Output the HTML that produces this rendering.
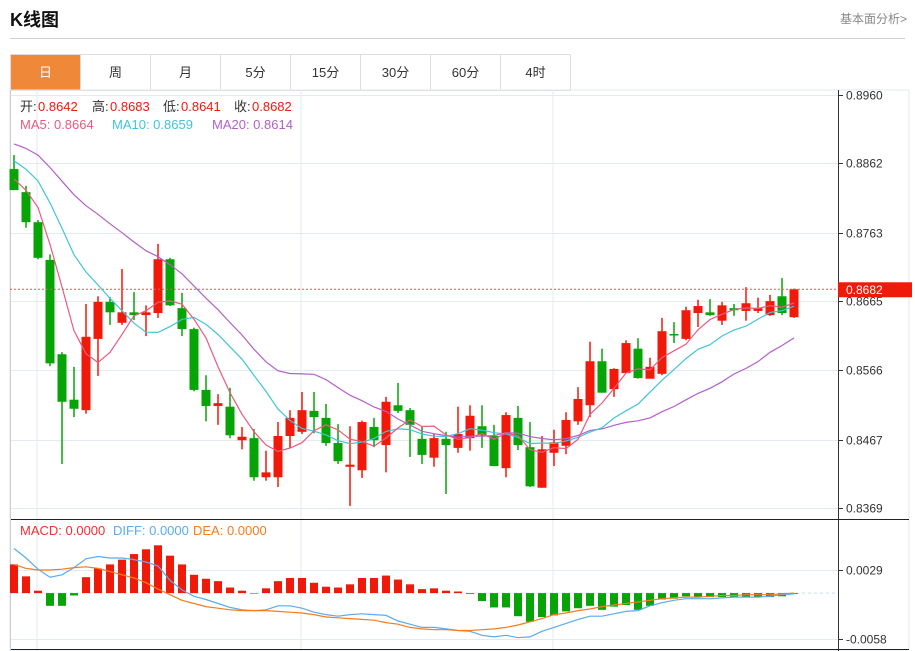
<!DOCTYPE html>
<html><head><meta charset="utf-8">
<style>
body{margin:0;background:#fff;font-family:"Liberation Sans","Noto Sans CJK SC",sans-serif;}
#wrap{position:relative;width:915px;height:651px;overflow:hidden;}
.title{position:absolute;left:10px;top:6px;font-size:18px;font-weight:bold;color:#111;}
.more{position:absolute;right:8px;top:10px;font-size:12px;color:#888;}
.hr{position:absolute;left:10px;top:38px;width:895px;height:1px;background:#d0d0d0;}
.tabs{position:absolute;left:10px;top:54px;height:35px;border:1px solid #ddd;border-right:none;display:flex;}
.tab{width:69px;height:35px;border-right:1px solid #ddd;text-align:center;line-height:35px;font-size:13px;color:#333;}
.tab.on{background:#f0883a;color:#fff;}
svg{position:absolute;left:0;top:0;}
</style></head><body>
<div id="wrap">
<div class="title">K线图</div>
<div class="more">基本面分析&gt;</div>
<div class="hr"></div>
<div class="tabs">
<div class="tab on">日</div>
<div class="tab">周</div>
<div class="tab">月</div>
<div class="tab">5分</div>
<div class="tab">15分</div>
<div class="tab">30分</div>
<div class="tab">60分</div>
<div class="tab">4时</div>
</div>
<svg id="chart" width="915" height="651"></svg>
</div>
<script>
const opens=[.8854,.8821,.8778,.8724,.8589,.8524,.8509,.8611,.8664,.8634,.8649,.8645,.8648,.8725,.8655,.8625,.8538,.8515,.8514,.8466,.8469,.8413,.8413,.8472,.8478,.8508,.8498,.8462,.8428,.8423,.8485,.8459,.8516,.8509,.8468,.8441,.8468,.8455,.8469,.8486,.8472,.8426,.8498,.8456,.8398,.8448,.8458,.8493,.8516,.8579,.8539,.8562,.8597,.8554,.8561,.8618,.8611,.8648,.8649,.8637,.8655,.8651,.8651,.8645,.8672,.8642];
const closes=[.8824,.8778,.8727,.8576,.8521,.8511,.8614,.8664,.8649,.8649,.8645,.8649,.8725,.8659,.8625,.8538,.8515,.8519,.8473,.8471,.8413,.8420,.8472,.8498,.8509,.8499,.8462,.8436,.8431,.8492,.8466,.8521,.8508,.8488,.8445,.8469,.8459,.8475,.8501,.8473,.8429,.8502,.8459,.8400,.8453,.8463,.8495,.8525,.8579,.8534,.8568,.8605,.8555,.8571,.8622,.8617,.8652,.8658,.8645,.8659,.8652,.8662,.8655,.8665,.8648,.8682];
const highs=[.8874,.8830,.8781,.8732,.8592,.8571,.8661,.8672,.8671,.8711,.8678,.8659,.8747,.8727,.8677,.8627,.8559,.8532,.8541,.8485,.8482,.8451,.8492,.8509,.8535,.8535,.8518,.8489,.8486,.8494,.8498,.8528,.8548,.8512,.8485,.8475,.8478,.8514,.8516,.8516,.8488,.8506,.8515,.8492,.8472,.8481,.8506,.8542,.8607,.8597,.8569,.8609,.8612,.8584,.8641,.8635,.8657,.8667,.8668,.8664,.8661,.8685,.8670,.8674,.8698,.8683];
const lows=[.8824,.8770,.8725,.8572,.8432,.8499,.8504,.8558,.8631,.8631,.8638,.8615,.8641,.8658,.8615,.8536,.8493,.8488,.8469,.8453,.8408,.8408,.8399,.8455,.8475,.8476,.8458,.8432,.8372,.8412,.8456,.8420,.8505,.8442,.8432,.8428,.8389,.8448,.8451,.8455,.8429,.8413,.8452,.8399,.8398,.8429,.8446,.8488,.8499,.8534,.8528,.8562,.8554,.8554,.8559,.8605,.8609,.8628,.8644,.8631,.8644,.8637,.8648,.8644,.8645,.8641];
const priorCloses=[.8905,.8920,.8930,.8915,.8900,.8925,.8910,.8920,.8905,.8910,.8900,.8895,.8890,.8885,.8890,.8860,.8850,.8840,.8826];
const macdBars=[.0036,.0021,.0003,-.0016,-.0016,-.0003,.0020,.0031,.0036,.0042,.0049,.0055,.0060,.0047,.0036,.0023,.0018,.0015,.0007,.0003,.0000,.0006,.0015,.0019,.0019,.0013,.0008,.0007,.0011,.0019,.0019,.0022,.0017,.0011,.0005,.0006,.0003,.0002,-.0001,-.0010,-.0018,-.0018,-.0029,-.0036,-.0030,-.0028,-.0023,-.0019,-.0016,-.0021,-.0017,-.0015,-.0021,-.0016,-.0008,-.0007,-.0004,-.0005,-.0005,-.0005,-.0005,-.0005,-.0005,-.0005,-.0004,-.0001];
const diffVals=[.0056,.0044,.0030,.0020,.0023,.0032,.0043,.0046,.0044,.0044,.0042,.0039,.0034,.0016,.0004,-.0004,-.0008,-.0013,-.0018,-.0021,-.0022,-.0021,-.0016,-.0016,-.0019,-.0024,-.0027,-.0029,-.0027,-.0026,-.0027,-.0028,-.0035,-.0039,-.0043,-.0043,-.0045,-.0047,-.0048,-.0053,-.0055,-.0053,-.0056,-.0055,-.0048,-.0043,-.0038,-.0033,-.0029,-.0029,-.0026,-.0023,-.0022,-.0016,-.0012,-.0009,-.0007,-.0007,-.0007,-.0006,-.0005,-.0005,-.0005,-.0004,-.0002,-.0001];
const deaVals=[.0036,.0031,.0029,.0029,.0030,.0032,.0033,.0031,.0027,.0023,.0019,.0013,.0005,-.0002,-.0009,-.0013,-.0017,-.0019,-.0021,-.0022,-.0022,-.0022,-.0023,-.0024,-.0025,-.0027,-.0030,-.0031,-.0032,-.0033,-.0034,-.0037,-.0039,-.0043,-.0045,-.0046,-.0046,-.0047,-.0047,-.0046,-.0045,-.0043,-.0040,-.0036,-.0032,-.0027,-.0025,-.0022,-.0020,-.0017,-.0015,-.0013,-.0011,-.0009,-.0007,-.0006,-.0005,-.0005,-.0004,-.0003,-.0003,-.0002,-.0002,-.0002,-.0001,.0000];
const priceTicks=[0.8960,0.8862,0.8763,0.8665,0.8566,0.8467,0.8369];
const macdTicks=[0.0029,-0.0058];
const lastPrice=0.8682;

const svg=document.getElementById('chart');
const NS='http://www.w3.org/2000/svg';
function mk(tag,attrs,parent){const e=document.createElementNS(NS,tag);for(const k in attrs)e.setAttribute(k,attrs[k]);(parent||svg).appendChild(e);return e;}
const L=10,R=838,PT=95,PB=508;
const xOf=i=>14+i*12;
const yP=p=>PT+(0.8960-p)*(PB-PT)/(0.8960-0.8369);
const yM=v=>593.1-v*7966;

// frame & grid
const frame=mk('g',{});


mk('rect',{x:10,y:90,width:899,height:560,fill:'none',stroke:'#e3e8ee'},frame);
[37,301,553].forEach(x=>mk('line',{x1:x,y1:90,x2:x,y2:649,stroke:'#e3eaf0'},frame));
priceTicks.forEach(p=>{const y=Math.round(yP(p))+0.5;
 mk('line',{x1:L,y1:y,x2:R,y2:y,stroke:'#e3eaf0'},frame);
 mk('line',{x1:R,y1:y,x2:R+5,y2:y,stroke:'#333'},frame);
 const t=mk('text',{x:R+8,y:y+4,'font-size':12,fill:'#333'},frame);t.textContent=p.toFixed(4);
 
 
});
macdTicks.forEach(v=>{const y=Math.round(yM(v))+0.5;
 mk('line',{x1:L,y1:y,x2:R,y2:y,stroke:'#e3eaf0'},frame);
 mk('line',{x1:R,y1:y,x2:R+5,y2:y,stroke:'#333'},frame);
 const t=mk('text',{x:R+8,y:y+4,'font-size':12,fill:'#333'},frame);t.textContent=v.toFixed(4);
 
 
});
mk('line',{x1:R+0.5,y1:90,x2:R+0.5,y2:651,stroke:'#333'},frame);
mk('line',{x1:L,y1:519.5,x2:909,y2:519.5,stroke:'#222'},frame);
mk('line',{x1:L,y1:649.5,x2:909,y2:649.5,stroke:'#222'},frame);
mk('line',{x1:L+0.5,y1:90,x2:L+0.5,y2:651,stroke:'#ccc'},frame);

// candles
closes.forEach((c,i)=>{
 const o=opens[i],up=c>=o,col=up?'#f01a0a':'#06a406',x=xOf(i);
 const g=mk('g',{});
 
 
 mk('line',{x1:x,y1:yP(highs[i]),x2:x,y2:yP(lows[i]),stroke:col,'stroke-width':1.5},g);
 const top=yP(Math.max(o,c)),h=Math.max(1.5,Math.abs(yP(o)-yP(c)));
 mk('rect',{x:x-4.5,y:top,width:9,height:h,fill:col},g);
});
// MAs
const all=priorCloses.concat(closes),off=priorCloses.length;
function ma(n){return closes.map((_,i)=>{let s=0;for(let k=0;k<n;k++)s+=all[off+i-k];return s/n;});}
[[20,'#b45fc8','ma20-line'],[10,'#41c4d9','ma10-line'],[5,'#ea5a80','ma5-line']].forEach(([n,col,nm])=>{
 const pts=ma(n).map((v,i)=>xOf(i)+','+yP(v).toFixed(1)).join(' ');
 const pl=mk('polyline',{points:pts,fill:'none',stroke:col,'stroke-width':1.2});
 
 
});
// last price line
const ly=yP(lastPrice);
const lpl=mk('line',{x1:L,y1:ly,x2:R,y2:ly,stroke:'#f05050','stroke-dasharray':'2,2'});


const lb=mk('rect',{x:R,y:ly-7,width:74,height:15,fill:'#f01a0a'});


const lt=mk('text',{x:R+8,y:ly+4.5,'font-size':12,fill:'#fff'});lt.textContent=lastPrice.toFixed(4);



// MACD
mk('line',{x1:L,y1:yM(0),x2:R,y2:yM(0),stroke:'#bfe0f0','stroke-dasharray':'3,3'});
macdBars.forEach((v,i)=>{
 const y0=yM(0),y1=yM(v);
 const r=mk('rect',{x:xOf(i)-4,y:Math.min(y0,y1),width:8,height:Math.max(0.5,Math.abs(y1-y0)),fill:v>=0?'#f01a0a':'#06a406'});
 
 
});
[[diffVals,'#5aabf0','diff-line'],[deaVals,'#f57c1f','dea-line']].forEach(([arr,col,nm])=>{
 const pl=mk('polyline',{points:arr.map((v,i)=>xOf(i)+','+yM(v).toFixed(1)).join(' '),fill:'none',stroke:col,'stroke-width':1.2});
 
 
});

// legends
function txt(x,y,s,col,nm){const t=mk('text',{x:x,y:y,'font-size':13,fill:col});t.textContent=s;
 
 return t;}
txt(20,111,'开:','#333','open-label');txt(38,111,'0.8642','#f01a0a','open-value');
txt(92,111,'高:','#333','high-label');txt(110,111,'0.8683','#f01a0a','high-value');
txt(163,111,'低:','#333','low-label');txt(181,111,'0.8641','#f01a0a','low-value');
txt(234,111,'收:','#333','close-label');txt(252,111,'0.8682','#f01a0a','close-value');
txt(20,129,'MA5: 0.8664','#ea5a80','ma5-legend');
txt(112,129,'MA10: 0.8659','#41c4d9','ma10-legend');
txt(212,129,'MA20: 0.8614','#b45fc8','ma20-legend');
txt(20,535,'MACD: 0.0000','#f03030','macd-legend');
txt(113,535,'DIFF: 0.0000','#5aabf0','diff-legend');
txt(193,535,'DEA: 0.0000','#f57c1f','dea-legend');
</script>
</body></html>
